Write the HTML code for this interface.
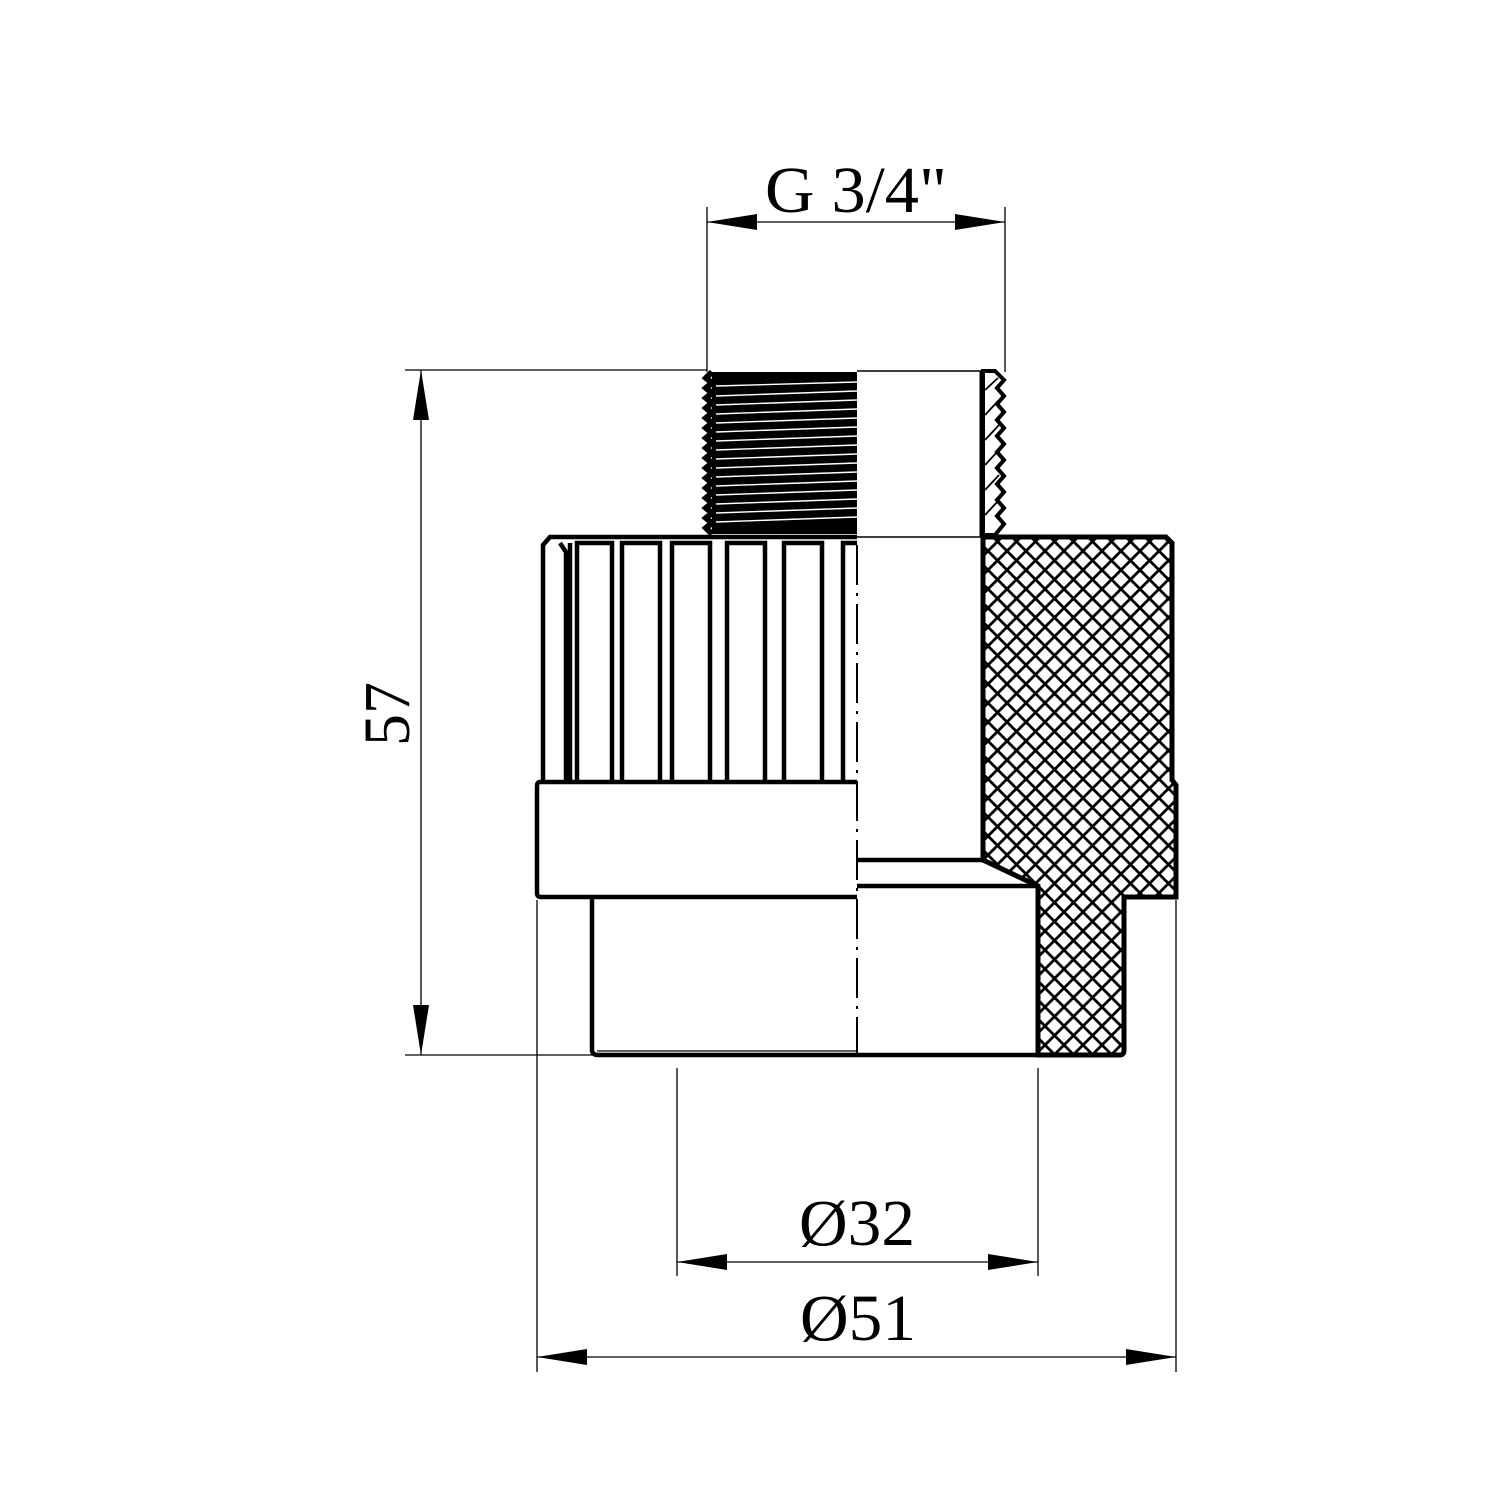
<!DOCTYPE html>
<html><head><meta charset="utf-8"><style>html,body{margin:0;padding:0;background:#fff}svg{display:block}</style></head>
<body>
<svg width="1500" height="1500" viewBox="0 0 1500 1500" xmlns="http://www.w3.org/2000/svg">
<defs>
<pattern id="h" width="19" height="19" patternUnits="userSpaceOnUse">
<path d="M-1,-1 L20,20 M-1,20 L20,-1" stroke="#000" stroke-width="2.8"/>
</pattern>
</defs>
<g fill="none" stroke="#000">
<line x1="707" y1="207" x2="707" y2="372" stroke-width="1.3"/>
<line x1="1005" y1="207" x2="1005" y2="372" stroke-width="1.3"/>
<line x1="707" y1="222" x2="1005" y2="222" stroke-width="1.3"/>
<line x1="405" y1="370" x2="707" y2="370" stroke-width="1.3"/>
<line x1="405" y1="1055" x2="592" y2="1055" stroke-width="1.3"/>
<line x1="421" y1="370" x2="421" y2="1055" stroke-width="1.3"/>
<line x1="677" y1="1068" x2="677" y2="1276" stroke-width="1.3"/>
<line x1="1038" y1="1068" x2="1038" y2="1276" stroke-width="1.3"/>
<line x1="677" y1="1262" x2="1038" y2="1262" stroke-width="1.3"/>
<line x1="537" y1="900" x2="537" y2="1372" stroke-width="1.3"/>
<line x1="1176" y1="900" x2="1176" y2="1372" stroke-width="1.3"/>
<line x1="537" y1="1357" x2="1176" y2="1357" stroke-width="1.3"/>
</g>
<g fill="#000">
<path d="M707,222 L757,214 L757,230 Z"/><path d="M1005,222 L955,214 L955,230 Z"/>
<path d="M421,370 L413,420 L429,420 Z"/><path d="M421,1055 L413,1005 L429,1005 Z"/>
<path d="M677,1262 L727,1254 L727,1270 Z"/><path d="M1038,1262 L988,1254 L988,1270 Z"/>
<path d="M537,1357 L587,1349 L587,1365 Z"/><path d="M1176,1357 L1126,1349 L1126,1365 Z"/>
</g>
<g font-family="Liberation Serif, serif" font-size="66" fill="#000" text-anchor="middle">
<text x="856" y="212" textLength="182" lengthAdjust="spacingAndGlyphs">G 3/4"</text>
<text x="857" y="1245" textLength="116" lengthAdjust="spacingAndGlyphs">Ø32</text>
<text x="858" y="1340" textLength="116" lengthAdjust="spacingAndGlyphs">Ø51</text>
<text transform="translate(409,714) rotate(-90)" textLength="64" lengthAdjust="spacingAndGlyphs">57</text>
</g>

<rect x="712" y="372" width="145" height="162" fill="#000"/>
<path d="M712,372 L706,378 L712,383 L706,388 L712,393 L706,398 L712,403 L706,408 L712,413 L706,418 L712,423 L706,428 L712,433 L706,438 L712,443 L706,448 L712,453 L706,458 L712,463 L706,468 L712,473 L706,478 L712,483 L706,488 L712,493 L706,498 L712,503 L706,508 L712,513 L706,518 L712,523 L706,528 L712,534" fill="none" stroke="#000" stroke-width="6"/>
<g stroke="#fff" stroke-width="1.4">
<line x1="716" y1="386" x2="857" y2="382"/><line x1="716" y1="396" x2="857" y2="391"/>
<line x1="716" y1="405" x2="857" y2="400"/><line x1="716" y1="414" x2="857" y2="409"/>
<line x1="716" y1="423" x2="857" y2="418"/><line x1="716" y1="432" x2="857" y2="427"/>
<line x1="716" y1="441" x2="857" y2="436"/><line x1="716" y1="450" x2="857" y2="445"/>
<line x1="716" y1="459" x2="857" y2="454"/><line x1="716" y1="468" x2="857" y2="463"/>
<line x1="716" y1="477" x2="857" y2="472"/><line x1="716" y1="486" x2="857" y2="481"/>
<line x1="716" y1="495" x2="857" y2="490"/><line x1="716" y1="504" x2="857" y2="499"/>
<line x1="716" y1="513" x2="857" y2="508"/><line x1="716" y1="522" x2="857" y2="517"/>
</g>
<line x1="857" y1="371" x2="982" y2="371" stroke="#000" stroke-width="1.5"/>
<line x1="857" y1="537" x2="982" y2="537" stroke="#000" stroke-width="1.5"/>
<path d="M983,371 L995,371 L1004,380 L997,388 L1004,396 L997,404 L1004,412 L997,420 L1004,428 L997,436 L1004,444 L997,452 L1004,460 L997,468 L1004,476 L997,484 L1004,492 L997,500 L1004,508 L997,516 L1004,524 L995,535 L983,535 Z" fill="#fff" stroke="#000" stroke-width="4"/>
<g stroke="#000" stroke-width="1.8"><line x1="985" y1="390" x2="998" y2="378"/><line x1="985" y1="415" x2="999" y2="400"/><line x1="985" y1="440" x2="999" y2="425"/><line x1="985" y1="465" x2="999" y2="450"/><line x1="985" y1="490" x2="999" y2="475"/><line x1="985" y1="515" x2="999" y2="500"/></g>
<line x1="982" y1="371" x2="982" y2="537" stroke="#000" stroke-width="5"/>

<g fill="none" stroke="#000" stroke-width="4.5">
<path d="M543,780 L543,545 L550,537 L857,537"/>
<path d="M566,780 L566,552 L560,543"/>
<line x1="570" y1="543" x2="570" y2="780"/>
<path d="M577,780 L577,543 L612,543 L612,780"/>
<path d="M622,780 L622,543 L660,543 L660,780"/>
<path d="M672,780 L672,543 L710,543 L710,780"/>
<path d="M727,780 L727,543 L765,543 L765,780"/>
<path d="M784,780 L784,543 L822,543 L822,780"/>
<path d="M843,780 L843,543 L857,543"/>
<path d="M857,782 L540,782 Q537,782 537,786 L537,893 Q537,897 541,897 L857,897"/>
<path d="M592,897 L592,1050 Q592,1055 598,1055 L1120,1055 Q1124,1055 1124,1050 L1124,897 L1176,897 L1176,785 L1172,780 L1172,543 L1166,537 L983,537"/>
<line x1="597" y1="1051" x2="857" y2="1051" stroke-width="1.2"/>
<line x1="857" y1="860" x2="983" y2="860"/>
<line x1="857" y1="886" x2="1038" y2="886"/>
</g>
<path d="M983,537 L1166,537 L1172,543 L1172,780 L1176,785 L1176,897 L1124,897 L1124,1050 Q1124,1055 1120,1055 L1038,1055 L1038,886 L983,860 Z" fill="url(#h)" stroke="#000" stroke-width="5"/>
<line x1="857" y1="545" x2="857" y2="1055" stroke="#000" stroke-width="2" stroke-dasharray="40,8,3,8"/>
</svg>
</body></html>
